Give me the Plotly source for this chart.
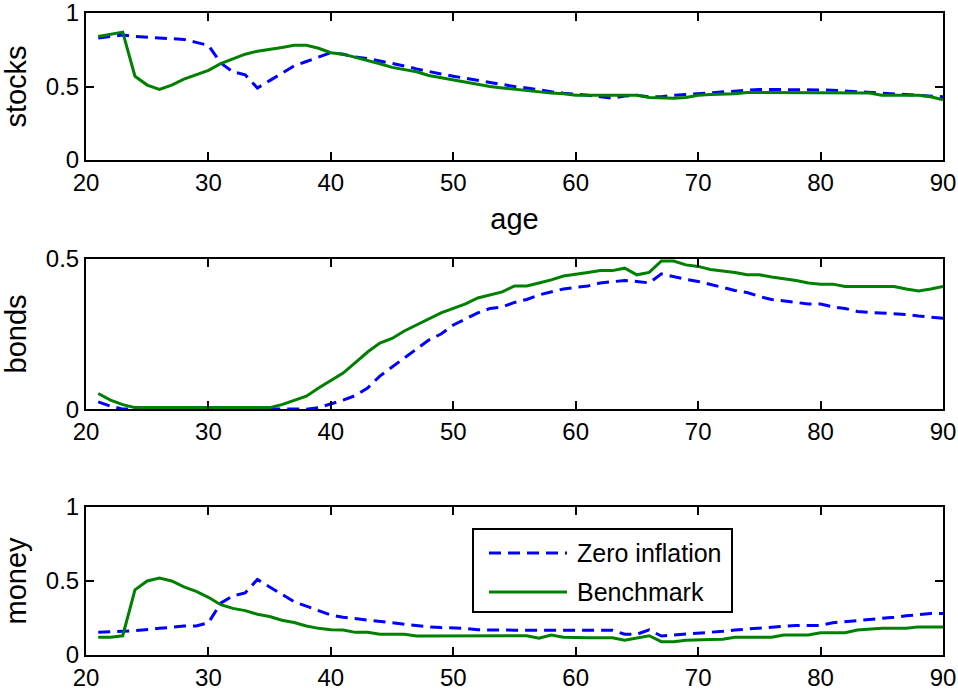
import plotly.graph_objects as go
from plotly.subplots import make_subplots

# Portfolio shares over the life cycle, ages 21..90
ages = list(range(21, 91))

stocks_zero = [
    0.83, 0.84, 0.85, 0.84, 0.835, 0.83, 0.83, 0.82, 0.80, 0.78,
    0.66, 0.60, 0.58, 0.49, 0.54, 0.59, 0.64, 0.67, 0.70, 0.73,
    0.72, 0.70, 0.69, 0.675, 0.66, 0.64, 0.62, 0.60, 0.585, 0.57,
    0.555, 0.54, 0.525, 0.51, 0.50, 0.49, 0.475, 0.465, 0.455, 0.45,
    0.44, 0.43, 0.42, 0.435, 0.44, 0.43, 0.43, 0.44, 0.445, 0.45,
    0.46, 0.465, 0.47, 0.475, 0.48, 0.48, 0.48, 0.48, 0.48, 0.48,
    0.475, 0.47, 0.465, 0.46, 0.455, 0.45, 0.445, 0.44, 0.435, 0.43,
]
stocks_bench = [
    0.84, 0.855, 0.87, 0.57, 0.51, 0.48, 0.51, 0.55, 0.58, 0.61,
    0.655, 0.69, 0.72, 0.74, 0.75, 0.765, 0.78, 0.78, 0.76, 0.73,
    0.72, 0.70, 0.68, 0.655, 0.63, 0.615, 0.60, 0.575, 0.56, 0.545,
    0.53, 0.515, 0.50, 0.49, 0.48, 0.475, 0.46, 0.455, 0.45, 0.44,
    0.44, 0.44, 0.44, 0.44, 0.44, 0.425, 0.42, 0.42, 0.425, 0.44,
    0.445, 0.445, 0.45, 0.46, 0.46, 0.46, 0.46, 0.46, 0.46, 0.46,
    0.46, 0.46, 0.46, 0.455, 0.44, 0.44, 0.44, 0.44, 0.43, 0.41,
]

bonds_zero = [
    0.024, 0.01, 0.0, 0.0, 0.0, 0.0, 0.0, 0.0, 0.0, 0.0,
    0.0, 0.0, 0.0, 0.0, 0.0, 0.0, 0.0, 0.0, 0.005, 0.017,
    0.03, 0.045, 0.07, 0.11, 0.14, 0.17, 0.20, 0.23, 0.25, 0.28,
    0.30, 0.32, 0.335, 0.34, 0.355, 0.365, 0.38, 0.39, 0.40, 0.405,
    0.41, 0.42, 0.425, 0.428, 0.425, 0.42, 0.45, 0.44, 0.432, 0.425,
    0.415, 0.405, 0.395, 0.388, 0.375, 0.365, 0.36, 0.355, 0.35, 0.35,
    0.34, 0.335, 0.325, 0.322, 0.32, 0.316, 0.315, 0.31, 0.305, 0.302,
]
bonds_bench = [
    0.052, 0.03, 0.015, 0.005, 0.005, 0.005, 0.005, 0.005, 0.005, 0.005,
    0.005, 0.005, 0.005, 0.005, 0.005, 0.015, 0.03, 0.043, 0.07, 0.095,
    0.12, 0.155, 0.19, 0.22, 0.235, 0.26, 0.28, 0.30, 0.32, 0.335,
    0.35, 0.37, 0.38, 0.39, 0.41, 0.41, 0.42, 0.43, 0.443, 0.45,
    0.455, 0.461, 0.461, 0.469, 0.447, 0.455, 0.493, 0.493, 0.48, 0.475,
    0.465, 0.46, 0.455, 0.447, 0.447, 0.44, 0.435, 0.428, 0.42, 0.416,
    0.416, 0.408, 0.408, 0.408, 0.408, 0.408, 0.40, 0.393, 0.40, 0.408,
]

money_zero = [
    0.153, 0.155, 0.16, 0.165, 0.17, 0.18, 0.187, 0.196, 0.196, 0.218,
    0.35, 0.40, 0.42, 0.51, 0.46, 0.41, 0.36, 0.33, 0.30, 0.27,
    0.255, 0.245, 0.235, 0.225, 0.22, 0.21, 0.20, 0.19, 0.185, 0.185,
    0.18, 0.17, 0.168, 0.168, 0.168, 0.168, 0.168, 0.168, 0.168, 0.168,
    0.168, 0.168, 0.168, 0.14, 0.14, 0.17, 0.128, 0.135, 0.14, 0.146,
    0.155, 0.16, 0.169, 0.175, 0.185, 0.19, 0.195, 0.20, 0.20, 0.20,
    0.218, 0.225, 0.235, 0.24, 0.245, 0.255, 0.265, 0.275, 0.28, 0.28,
]
money_bench = [
    0.12, 0.12, 0.13, 0.44, 0.50, 0.52, 0.50, 0.46, 0.43, 0.39,
    0.34, 0.315, 0.30, 0.275, 0.26, 0.235, 0.22, 0.196, 0.18, 0.17,
    0.169, 0.153, 0.153, 0.14, 0.14, 0.14, 0.128, 0.128, 0.128, 0.128,
    0.128, 0.128, 0.13, 0.13, 0.13, 0.13, 0.113, 0.135, 0.12, 0.117,
    0.117, 0.117, 0.117, 0.10, 0.115, 0.13, 0.09, 0.09, 0.10, 0.10,
    0.105, 0.106, 0.12, 0.12, 0.12, 0.12, 0.135, 0.135, 0.135, 0.15,
    0.15, 0.15, 0.169, 0.175, 0.18, 0.18, 0.18, 0.19, 0.19, 0.19,
]

panel_titles = ["stocks", "bonds", "money"]
series_names = ["Zero inflation", "Benchmark"]

BLUE = "#0000ff"
GREEN = "#008000"
DASH = "12px,7px"
FONT = "Liberation Sans, Arial, sans-serif"

W, H = 958, 693
ML, MR, MT, MB = 86, 15, 13, 38

fig = make_subplots(rows=3, cols=1, vertical_spacing=0.0)

panels = [
    (stocks_zero, stocks_bench, [0, 1], [0, 0.5, 1], ["0", "0.5", "1"]),
    (bonds_zero, bonds_bench, [0, 0.5], [0, 0.5], ["0", "0.5"]),
    (money_zero, money_bench, [0, 1], [0, 0.5, 1], ["0", "0.5", "1"]),
]

for i, (zero, bench, yr, tv, tt) in enumerate(panels, start=1):
    fig.add_trace(
        go.Scatter(
            x=ages, y=zero, mode="lines", name=series_names[0],
            line=dict(color=BLUE, width=3, dash=DASH),
            showlegend=False,
        ),
        row=i, col=1,
    )
    fig.add_trace(
        go.Scatter(
            x=ages, y=bench, mode="lines", name=series_names[1],
            line=dict(color=GREEN, width=3),
            showlegend=False,
        ),
        row=i, col=1,
    )
    fig.update_yaxes(
        range=yr, tickvals=tv, ticktext=tt,
        title=dict(text=panel_titles[i - 1], standoff=12),
        row=i, col=1,
    )

common_axis = dict(
    showline=True, linecolor="black", linewidth=2, mirror="ticks",
    ticks="inside", ticklen=8, tickwidth=1.5, tickcolor="black",
    showgrid=False, zeroline=False, automargin=False,
    ticklabeloverflow="allow",
    tickfont=dict(family=FONT, size=24, color="black"),
)
fig.update_xaxes(range=[20, 90], tickvals=[20, 30, 40, 50, 60, 70, 80, 90], **common_axis)
fig.update_yaxes(**common_axis)
fig.update_xaxes(title=dict(text="age", standoff=14), row=1, col=1)

fig.layout.yaxis.domain = [0.771, 1.0]
fig.layout.yaxis2.domain = [0.383, 0.617]
fig.layout.yaxis3.domain = [0.0, 0.2305]


# Legend box inside the money panel, placed in page pixels
def px_x(px):
    return (px - ML) / (W - ML - MR)


def px_y(py):
    return (H - MB - py) / (H - MT - MB)


shapes = [
    dict(type="rect", xref="paper", yref="paper",
         x0=px_x(473), x1=px_x(732), y0=px_y(612), y1=px_y(529),
         line=dict(color="black", width=2), fillcolor="white", layer="above"),
    dict(type="line", xref="paper", yref="paper",
         x0=px_x(489), x1=px_x(567), y0=px_y(553), y1=px_y(553),
         line=dict(color=BLUE, width=3, dash=DASH), layer="above"),
    dict(type="line", xref="paper", yref="paper",
         x0=px_x(489), x1=px_x(567), y0=px_y(592), y1=px_y(592),
         line=dict(color=GREEN, width=3), layer="above"),
]
annotations = [
    dict(text=series_names[0], xref="paper", yref="paper",
         x=px_x(575), y=px_y(553), xanchor="left", yanchor="middle",
         showarrow=False, font=dict(family=FONT, size=25, color="black")),
    dict(text=series_names[1], xref="paper", yref="paper",
         x=px_x(575), y=px_y(592), xanchor="left", yanchor="middle",
         showarrow=False, font=dict(family=FONT, size=25, color="black")),
]

fig.update_layout(
    width=W, height=H,
    margin=dict(l=ML, r=MR, t=MT, b=MB),
    plot_bgcolor="white", paper_bgcolor="white",
    font=dict(family=FONT, size=24, color="black"),
    showlegend=False,
    shapes=shapes,
    annotations=annotations,
)

fig.write_html("out.html")
